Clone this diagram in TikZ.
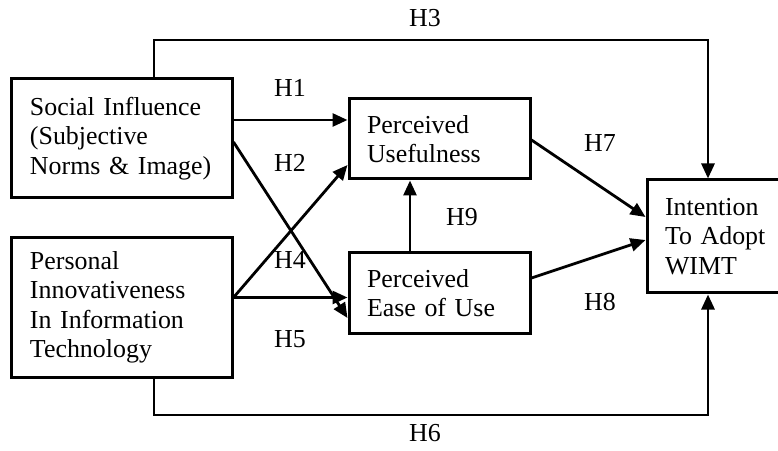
\documentclass[tikz,border=0pt]{standalone}
\usepackage{fontspec}
\setmainfont{Liberation Serif}
\usetikzlibrary{arrows.meta}
\begin{document}
\begin{tikzpicture}[x=1bp,y=-1bp,
  box/.style={draw, line width=3bp, rectangle, inner xsep=18bp, inner ysep=0bp,
    align=left, font=\fontsize{26}{29.5}\selectfont, anchor=center},
  link/.style={line width=2.8bp, -{Triangle[length=15bp,width=13bp]}},
  hyp/.style={font=\fontsize{26}{29.5}\selectfont, inner sep=0pt}]
  \useasboundingbox (0,0) rectangle (778,451);
  \fill[white] (0,0) rectangle (778,451);

  % constructs
  \node[box, minimum width=220bp, minimum height=119bp, text width=184bp]
    (SI) at (122,138.5) {Social Influence\\(Subjective\\Norms \& Image)};
  \node[box, minimum width=220bp, minimum height=139bp, text width=184bp]
    (PI) at (122,307.5) {Personal\\Innovativeness\\In Information\\Technology};
  \node[box, minimum width=181bp, minimum height=80bp, text width=145bp]
    (PU) at (439.5,139) {Perceived\\Usefulness};
  \node[box, minimum width=181bp, minimum height=80bp, text width=145bp]
    (PE) at (439.5,293) {Perceived\\Ease of Use};
  \node[box, minimum width=143bp, minimum height=113bp, text width=107bp]
    (IT) at (718.5,236.5) {Intention\\To Adopt\\WIMT};

  % bends of the two outer paths
  \coordinate (h3) at (425,40);
  \coordinate (h6) at (425,415);

  % hypothesised paths
  \draw[link] ([yshift=18.5bp]SI.east) -- ([yshift=19bp]PU.west);
  \draw[link] ([yshift=-3.5bp]SI.east) -- ([yshift=-25bp]PE.west);
  \draw[link] ([yshift=10bp]PI.east) -- ([yshift=-26bp]PU.west);
  \draw[link] ([yshift=10bp]PI.east) -- ([yshift=-4.5bp]PE.west);
  \draw[link] ([xshift=-29.5bp]PE.north) -- ([xshift=-29.5bp]PU.south);
  \draw[link] ([yshift=-1bp]PU.east) -- ([yshift=19.5bp]IT.west);
  \draw[link] ([yshift=15bp]PE.east) -- ([yshift=-3.5bp]IT.west);
  \draw[link] ([xshift=32bp]SI.north) |- (h3) -| ([xshift=-10.5bp]IT.north);
  \draw[link] ([xshift=32bp]PI.south) |- (h6) -| ([xshift=-10.5bp]IT.south);

  % hypothesis labels
  \node[hyp] (H1) at (290,87.5) {H1};
  \node[hyp] (H2) at (290,163) {H2};
  \node[hyp] (H4) at (290,260) {H4};
  \node[hyp] (H5) at (290,339) {H5};
  \node[hyp] (H7) at (600,143.5) {H7};
  \node[hyp] (H9) at (462,217) {H9};
  \node[hyp] (H8) at (600,302) {H8};
  \node[hyp] (H3) at (425,18) {H3};
  \node[hyp] (H6) at (425,433) {H6};
\end{tikzpicture}
\end{document}
